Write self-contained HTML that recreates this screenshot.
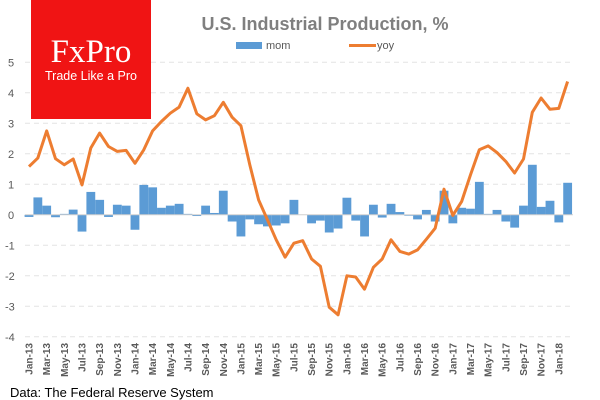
<!DOCTYPE html>
<html><head><meta charset="utf-8"><style>
html,body{margin:0;padding:0;background:#fff;}
svg{display:block;font-family:"Liberation Sans",sans-serif;}
</style></head><body>
<svg width="600" height="400" viewBox="0 0 600 400" xmlns="http://www.w3.org/2000/svg" id="c">
<rect width="600" height="400" fill="#fff"/>
<g id="grid" stroke="#e4e4e4" stroke-dasharray="5,4" stroke-width="1"></g>
<g id="bars" fill="#5b9bd5"></g>
<line x1="25" x2="573" y1="214.8" y2="214.8" stroke="#d0d0d0" stroke-width="1"/>
<polyline id="yoy" fill="none" stroke="#ed7d31" stroke-width="3" stroke-linejoin="round"/>
<g id="ylab" fill="#595959" font-size="11"></g>
<g id="xlab" fill="#595959" font-size="10" font-weight="bold"></g>
<rect x="31" y="0" width="120" height="119" fill="#f01414"/>
<text x="91" y="62" fill="#fff" font-family="Liberation Serif,serif" font-size="33" text-anchor="middle">FxPro</text>
<text x="91" y="80" fill="#fff" font-size="12.5" text-anchor="middle">Trade Like a Pro</text>
<text x="325" y="30" fill="#7f7f7f" font-size="18" font-weight="bold" text-anchor="middle">U.S. Industrial  Production,  %</text>
<rect x="236" y="42" width="26" height="7" fill="#5b9bd5"/>
<text x="266" y="49" fill="#595959" font-size="11">mom</text>
<line x1="349" x2="376" y1="45.5" y2="45.5" stroke="#ed7d31" stroke-width="3"/>
<text x="377" y="49" fill="#595959" font-size="11">yoy</text>
<text x="10" y="397" fill="#000" font-size="13">Data: The Federal Reserve System</text>
</svg>
<script>
var ns="http://www.w3.org/2000/svg";
var Z=214.8,U=30.5,X0=29,DX=8.83;
function y(v){return Z-v*U;}
var g=document.getElementById("grid");
for(var v=-4;v<=5;v++){var t=document.createElementNS(ns,"text");t.setAttribute("x",v<0?5:8);t.setAttribute("y",y(v)+4);t.textContent=v;document.getElementById("ylab").appendChild(t);
if(v==0)continue;var l=document.createElementNS(ns,"line");l.setAttribute("x1",25);l.setAttribute("x2",573);l.setAttribute("y1",y(v));l.setAttribute("y2",y(v));g.appendChild(l);}
var mom=[-0.07,0.57,0.30,-0.08,0.03,0.17,-0.55,0.75,0.49,-0.07,0.33,0.30,-0.49,0.98,0.90,0.23,0.30,0.36,0.03,-0.04,0.30,0.06,0.79,-0.22,-0.71,-0.15,-0.31,-0.38,-0.35,-0.28,0.49,0,-0.28,-0.19,-0.58,-0.45,0.56,-0.19,-0.71,0.33,-0.09,0.36,0.09,-0.03,-0.15,0.16,-0.22,0.79,-0.28,0.23,0.20,1.08,0.03,0.16,-0.22,-0.42,0.30,1.64,0.26,0.46,-0.25,1.05];
var yoy=[1.58,1.86,2.75,1.84,1.64,1.83,0.98,2.19,2.68,2.24,2.08,2.11,1.69,2.13,2.75,3.06,3.33,3.53,4.15,3.31,3.11,3.25,3.69,3.2,2.92,1.64,0.49,-0.16,-0.82,-1.39,-0.93,-0.85,-1.45,-1.69,-3.03,-3.28,-2.0,-2.04,-2.44,-1.72,-1.45,-0.82,-1.2,-1.29,-1.15,-0.8,-0.44,0.84,-0.02,0.44,1.31,2.13,2.26,2.04,1.75,1.37,1.83,3.36,3.83,3.46,3.49,4.37];
var b=document.getElementById("bars"),pts=[];
var mn=["Jan","Mar","May","Jul","Sep","Nov"];
for(var i=0;i<62;i++){var x=X0+DX*i,v=mom[i];
var r=document.createElementNS(ns,"rect");r.setAttribute("x",x-4.4);r.setAttribute("width",8.83);r.setAttribute("y",Math.min(y(v),Z));r.setAttribute("height",Math.abs(v*U));b.appendChild(r);
pts.push(x.toFixed(1)+","+y(yoy[i]).toFixed(1));
if(i%2==0){var t=document.createElementNS(ns,"text");t.setAttribute("transform","translate("+(x+3.5)+",343) rotate(-90)");t.setAttribute("text-anchor","end");t.textContent=mn[(i%12)/2]+"-"+(13+Math.floor(i/12));document.getElementById("xlab").appendChild(t);}}
document.getElementById("yoy").setAttribute("points",pts.join(" "));
</script>
</body></html>
